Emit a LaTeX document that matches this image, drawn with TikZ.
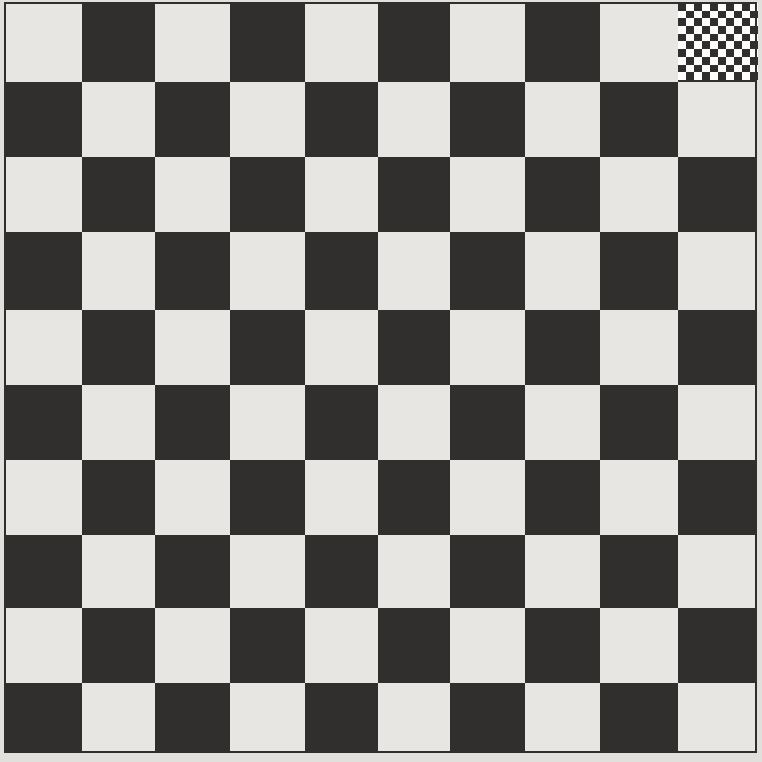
\documentclass[tikz,border=0pt]{standalone}
\definecolor{paper}{RGB}{226,224,220}
\definecolor{ink}{RGB}{48,47,46}
\definecolor{lightsq}{RGB}{232,230,226}
\begin{document}
\begin{tikzpicture}[x=1pt,y=-1pt]
\useasboundingbox (0,0) rectangle (762,762);
\fill[paper] (0,0) rectangle (762,762);
\def\xs{{5,82,155,230,305,378,450,525,600,678,756}}
\def\ys{{3,82,157,232,310,385,460,535,608,683,752}}
\fill[lightsq] (5,3) rectangle (756,752);
\foreach \r in {0,...,9}{
  \foreach \c in {0,...,9}{
    \pgfmathtruncatemacro{\odd}{mod(\r+\c,2)}
    \ifnum\odd=1
      \pgfmathsetmacro{\xa}{\xs[\c]}
      \pgfmathsetmacro{\xb}{\xs[\c+1]}
      \pgfmathsetmacro{\ya}{\ys[\r]}
      \pgfmathsetmacro{\yb}{\ys[\r+1]}
      \fill[ink] (\xa,\ya) rectangle (\xb,\yb);
    \fi
  }
}
% mini checkerboard in top-right square
\fill[white!95!paper] (678,3) rectangle (758,80);
\foreach \r in {0,...,9}{
  \foreach \c in {0,...,9}{
    \pgfmathtruncatemacro{\odd}{mod(\r+\c,2)}
    \ifnum\odd=0
      \fill[ink] (678+\c*8,3+\r*7.7) rectangle (686+\c*8,10.7+\r*7.7);
    \fi
  }
}
\draw[ink,line width=2pt] (5,3) rectangle (756,752);
\end{tikzpicture}
\end{document}
